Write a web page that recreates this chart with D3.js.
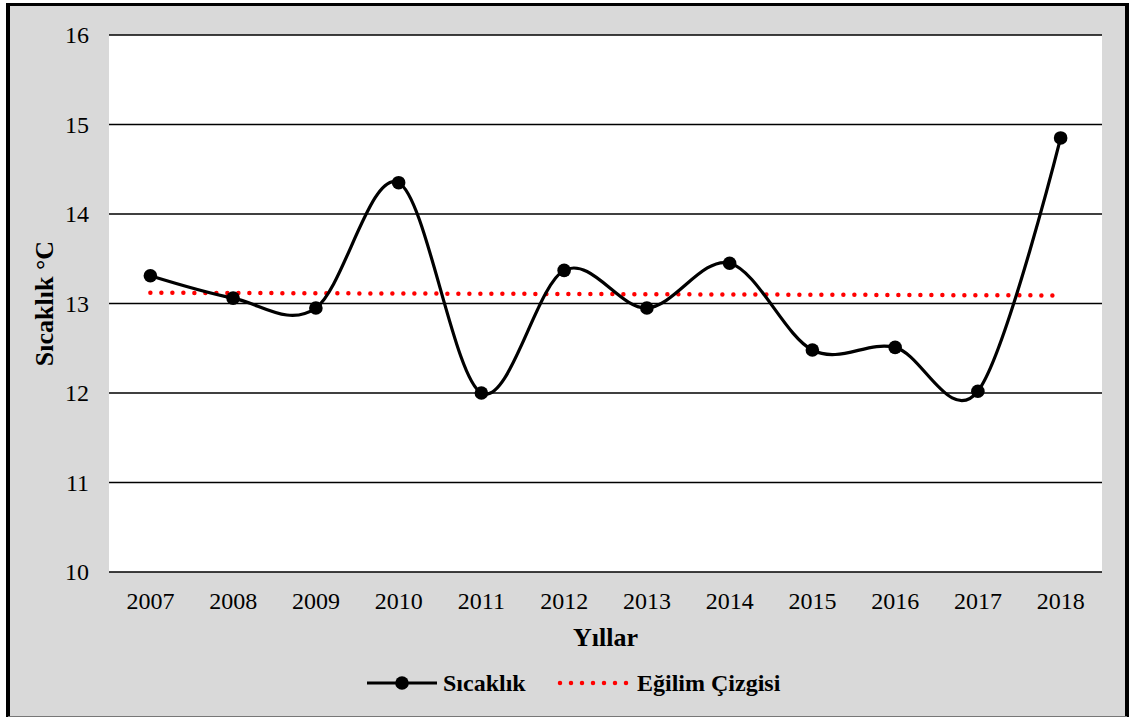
<!DOCTYPE html>
<html><head><meta charset="utf-8">
<script src="https://cdn.jsdelivr.net/npm/d3@7"></script>
<style>body{margin:0;background:#fff;} svg{display:block;}</style>
</head><body>
<script>
const years = ["2007","2008","2009","2010","2011","2012","2013","2014","2015","2016","2017","2018"];
const temps = [13.31, 13.06, 12.95, 14.35, 12.0, 13.37, 12.95, 13.45, 12.48, 12.51, 12.02, 14.85];
const trendYears = ["2007","2018"];
const trendValues = [13.12, 13.09];
const yTicks = [10, 11, 12, 13, 14, 15, 16];
const seriesNames = ["Sıcaklık", "Eğilim Çizgisi"];

(function(){
const W = 1134, H = 718;
const svg = d3.select("body").append("svg").attr("width", W).attr("height", H);
const font = "'Liberation Serif', 'Times New Roman', serif";

// background and frame
svg.append("rect").attr("x",0).attr("y",0).attr("width",W).attr("height",H).attr("fill","#fff");
svg.append("rect").attr("x",8).attr("y",5).attr("width",1119).attr("height",711).attr("fill","#d9d9d9");
svg.append("line").attr("x1",8).attr("x2",8).attr("y1",3).attr("y2",717).attr("stroke","#000").attr("stroke-width",4);
svg.append("line").attr("x1",6).attr("x2",1129).attr("y1",4.5).attr("y2",4.5).attr("stroke","#000").attr("stroke-width",3);
svg.append("line").attr("x1",1127).attr("x2",1127).attr("y1",3).attr("y2",717).attr("stroke","#000").attr("stroke-width",4);
svg.append("line").attr("x1",8).attr("x2",1127).attr("y1",716.5).attr("y2",716.5).attr("stroke","#777").attr("stroke-width",1);

const pL = 109, pR = 1102, pT = 35, pB = 572;
const x = d3.scaleBand().domain(years).range([pL, pR]);
const y = d3.scaleLinear().domain([10, 16]).range([pB, pT]);
const cx = d => x(d) + x.bandwidth()/2;

svg.append("rect").attr("x",pL).attr("y",pT).attr("width",pR-pL).attr("height",pB-pT).attr("fill","#fff");

// gridlines
svg.append("g").selectAll("line").data(yTicks).join("line")
  .attr("x1", pL).attr("x2", pR)
  .attr("y1", d => y(d)).attr("y2", d => y(d))
  .attr("stroke", "#000").attr("stroke-width", 1.5);

// y axis labels
const yAxis = d3.axisLeft(y).tickValues(yTicks).tickFormat(d3.format("d")).tickSize(0).tickPadding(20);
const gy = svg.append("g").attr("transform", `translate(${pL},0)`).call(yAxis);
gy.select(".domain").remove();
gy.selectAll("text").attr("font-family", font).attr("font-size", 24).attr("fill","#000");

// x axis labels
const xAxis = d3.axisBottom(x).tickSize(0).tickPadding(20);
const gx = svg.append("g").attr("transform", `translate(0,${pB})`).call(xAxis);
gx.select(".domain").remove();
gx.selectAll("text").attr("font-family", font).attr("font-size", 24).attr("fill","#000");

// axis titles
svg.append("text").attr("x", (pL+pR)/2).attr("y", 646).attr("text-anchor","middle")
  .attr("font-family", font).attr("font-weight","bold").attr("font-size", 26).text("Yıllar");
svg.append("text").attr("transform", `translate(53,${(pT+pB)/2}) rotate(-90)`).attr("text-anchor","middle")
  .attr("font-family", font).attr("font-weight","bold").attr("font-size", 26).text("Sıcaklık °C");

// trend line
svg.append("path")
  .datum(trendYears.map((d,i)=>[cx(d), y(trendValues[i])]))
  .attr("d", d3.line())
  .attr("fill","none").attr("stroke","#ff0000").attr("stroke-width",4.5)
  .attr("stroke-linecap","round").attr("stroke-dasharray","0 11");

// series line
const pts = years.map((d,i)=>[cx(d), y(temps[i])]);
svg.append("path").datum(pts)
  .attr("d", d3.line().curve(d3.curveCardinal.tension(0)))
  .attr("fill","none").attr("stroke","#000").attr("stroke-width",3.2);
svg.append("g").selectAll("circle").data(pts).join("circle")
  .attr("cx", d=>d[0]).attr("cy", d=>d[1]).attr("r", 6.8).attr("fill","#000");

// legend
const ly = 683;
svg.append("line").attr("x1",367).attr("x2",437).attr("y1",ly).attr("y2",ly).attr("stroke","#000").attr("stroke-width",3.2);
svg.append("circle").attr("cx",402).attr("cy",ly).attr("r",6.8).attr("fill","#000");
svg.append("text").attr("x",443).attr("y",ly+8).attr("font-family",font).attr("font-weight","bold").attr("font-size",24).text(seriesNames[0]);
svg.append("line").attr("x1",560).attr("x2",630).attr("y1",ly).attr("y2",ly)
  .attr("stroke","#ff0000").attr("stroke-width",4.5).attr("stroke-linecap","round").attr("stroke-dasharray","0 11");
svg.append("text").attr("x",637).attr("y",ly+8).attr("font-family",font).attr("font-weight","bold").attr("font-size",24).text(seriesNames[1]);
})();
</script>
</body></html>
